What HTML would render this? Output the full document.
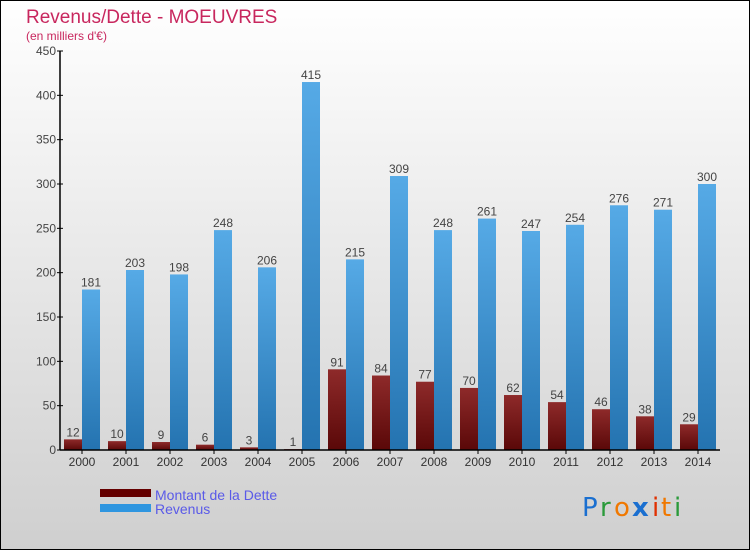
<!DOCTYPE html>
<html><head><meta charset="utf-8"><style>
html,body{margin:0;padding:0;}
body{width:750px;height:550px;overflow:hidden;font-family:"Liberation Sans",sans-serif;}
</style></head><body>
<svg id="chart" width="750" height="550" xmlns="http://www.w3.org/2000/svg">
<defs>
<linearGradient id="bg" x1="0" y1="0" x2="0" y2="1"><stop offset="0" stop-color="#ffffff"/><stop offset="1" stop-color="#cfcfcf"/></linearGradient>
<linearGradient id="gr" x1="0" y1="0" x2="0" y2="1"><stop offset="0" stop-color="#8e2a2a"/><stop offset="1" stop-color="#5a0808"/></linearGradient>
<linearGradient id="gb" x1="0" y1="0" x2="0" y2="1"><stop offset="0" stop-color="#56aae6"/><stop offset="1" stop-color="#2473b0"/></linearGradient>
</defs>
<rect x="0.5" y="0.5" width="749" height="549" fill="url(#bg)" stroke="#000"/>
<text x="26" y="23" font-size="19" fill="#c8275e">Revenus/Dette - MOEUVRES</text>
<text x="26" y="40" font-size="12" fill="#c8275e">(en milliers d'€)</text>
<g id="plot"></g>
<rect x="100" y="489" width="51" height="8" fill="#650000"/>
<rect x="100" y="504" width="51" height="8" fill="#2f96e0"/>
<text x="155" y="500" font-size="14" fill="#5a5ae8">Montant de la Dette</text>
<text x="155" y="514" font-size="14" fill="#5a5ae8">Revenus</text>
<g font-size="26" font-family="DejaVu Sans, sans-serif">
<text x="582" y="516" fill="#1a6fd0">P</text><text x="600" y="516" fill="#2a9a3a">r</text><text x="614" y="516" fill="#f07800">o</text><text x="632" y="516" fill="#1a6fd0" font-weight="bold">x</text><text x="652" y="516" fill="#e03000">i</text><text x="661" y="516" fill="#f07800">t</text><text x="674" y="516" fill="#2a9a3a">i</text>
</g>
</svg>
<script>
const years=["2000","2001","2002","2003","2004","2005","2006","2007","2008","2009","2010","2011","2012","2013","2014"];
const dette=[12,10,9,6,3,1,91,84,77,70,62,54,46,38,29];
const revenus=[181,203,198,248,206,415,215,309,248,261,247,254,276,271,300];
const yTicks=[0,50,100,150,200,250,300,350,400,450];
const NS="http://www.w3.org/2000/svg";
const g=document.getElementById('plot');
const x0=60,x1=720,yBase=450,yTop=51,yMax=450;
const y=v=>yBase-(v/yMax)*(yBase-yTop);
const step=(x1-x0)/years.length;
function mk(t,a,txt){const e=document.createElementNS(NS,t);for(const k in a)e.setAttribute(k,a[k]);if(txt!==undefined)e.textContent=txt;g.appendChild(e);return e;}
yTicks.forEach(v=>{
 const l=mk('line',{x1:x0-3,x2:x0+3,y1:y(v),y2:y(v),stroke:'#000'});
 
 
 const t=mk('text',{x:x0-4,y:y(v)+4,'font-size':12,fill:'#444','text-anchor':'end'},v);
 
 
});
years.forEach((yr,i)=>{
 const cx=x0+step*(i+0.5);
 const r1=mk('rect',{x:cx-18,y:y(dette[i]),width:18,height:yBase-y(dette[i]),fill:'url(#gr)'});
 
 
 const r2=mk('rect',{x:cx,y:y(revenus[i]),width:18,height:yBase-y(revenus[i]),fill:'url(#gb)'});
 
 
 const t1=mk('text',{x:cx-9,y:y(dette[i])-3,'font-size':12,fill:'#444','text-anchor':'middle'},dette[i]);
 
 
 const t2=mk('text',{x:cx+9,y:y(revenus[i])-3,'font-size':12,fill:'#444','text-anchor':'middle'},revenus[i]);
 
 
 const tk=mk('line',{x1:cx,x2:cx,y1:yBase,y2:yBase+4,stroke:'#000'});
 
 
 const xl=mk('text',{x:cx,y:466,'font-size':12,fill:'#333','text-anchor':'middle'},yr);
 
 
});
const ya=mk('line',{x1:x0,x2:x0,y1:yTop,y2:yBase,stroke:'#000','stroke-width':1.5});


const xa=mk('line',{x1:x0,x2:x1,y1:yBase,y2:yBase,stroke:'#000','stroke-width':1.5});


</script>
</body></html>
